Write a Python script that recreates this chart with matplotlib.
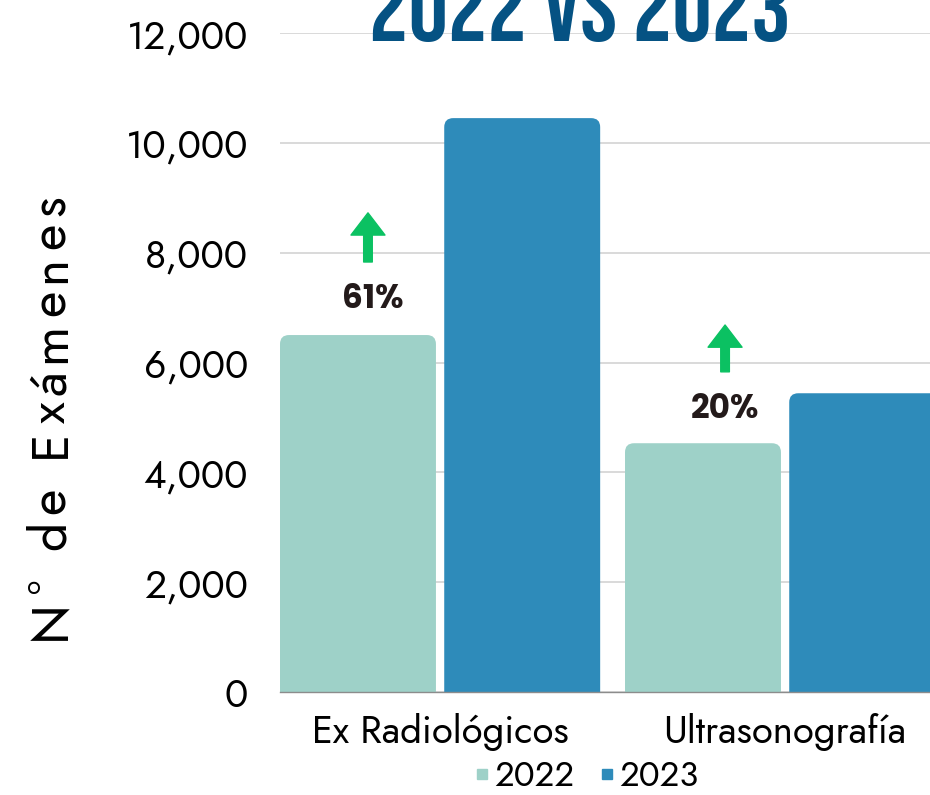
import matplotlib
matplotlib.use("Agg")
import matplotlib.pyplot as plt
import numpy as np
from matplotlib.patches import FancyBboxPatch
from matplotlib.textpath import TextToPath
from matplotlib.font_manager import FontProperties
from matplotlib.lines import Line2D

categorias = ["Ex Radiológicos", "Ultrasonografía"]
series = ["2022", "2023"]
valores_2022 = [6500, 4530]
valores_2023 = [10450, 5440]
variacion = ["61%", "20%"]
yticks = [0, 2000, 4000, 6000, 8000, 10000, 12000]
titulo = "2022 VS 2023"
etiqueta_y = "N° de Exámenes"

c2022 = "#9ED1C8"
c2023 = "#2E8BBA"
verde = "#0BC162"
azul_titulo = "#055283"
fuente = "Jost"

W, H = 930, 795
fig = plt.figure(figsize=(W/100, H/100), dpi=100)
ax = fig.add_axes([280/W, (H-692)/H, 650/W, 659/H])

x = np.arange(len(categorias))
ancho = 0.452
desp = 0.238
xmin, xmax = -0.464, 1.42
ax.set_xlim(xmin, xmax)
ax.set_ylim(0, 12000)

b1 = ax.bar(x - desp, valores_2022, ancho, color=c2022, zorder=2)
b2 = ax.bar(x + desp, valores_2023, ancho, color=c2023, zorder=2)

# esquinas redondeadas
px_x = 650 / (xmax - xmin)
px_y = 659 / 12000
r = 9 / px_x
for barras in (b1, b2):
    for p in barras:
        p.set_visible(False)
        fb = FancyBboxPatch((p.get_x(), -400), p.get_width(), p.get_height() + 400,
                            boxstyle="round,pad=0,rounding_size=%f" % r,
                            mutation_aspect=px_x/px_y, fc=p.get_facecolor(),
                            ec="none", zorder=2)
        ax.add_patch(fb)

ax.set_yticks(yticks)
ax.set_yticklabels(["{:,}".format(v) for v in yticks], fontsize=28, family=fuente)
ax.set_xticks(x)
ax.set_xticklabels(categorias, fontsize=27.5, family=fuente)
ax.tick_params(axis="y", length=0, pad=23)
ax.tick_params(axis="x", length=0, pad=15)
ax.yaxis.grid(True, color="#d9d9d9", lw=1.4, zorder=0)
ax.set_axisbelow(True)
for s in ["top", "right", "left"]:
    ax.spines[s].set_visible(False)
ax.spines["bottom"].set_color("#8c8c8c")
ax.spines["bottom"].set_linewidth(1)

# flechas y porcentajes
flechas_x = [-0.209, 0.826]
flechas_y = [(7830, 8725), (5830, 6683)]
texto_y = [7140, 5140]
texto_x = [-0.195, 0.826]
for i in range(2):
    ax.annotate("", xy=(flechas_x[i], flechas_y[i][1]), xytext=(flechas_x[i], flechas_y[i][0]),
                arrowprops=dict(arrowstyle="simple,head_length=1.6,head_width=2.45,tail_width=0.62",
                                color=verde, shrinkA=0, shrinkB=0, mutation_scale=10))
    ax.text(texto_x[i], texto_y[i], variacion[i], ha="center", va="center",
            fontsize=23.5, fontweight="bold", color="#231A1A", family="Poppins")

# etiqueta eje y, letra por letra para espaciarla
prop_y = FontProperties(family=fuente, size=37)
ttp = TextToPath()
anchos = [ttp.get_text_width_height_descent(ch, prop_y, ismath=False)[0] * 100 / 72
          for ch in etiqueta_y]
largo = 445
extra = (largo - sum(anchos)) / (len(etiqueta_y) - 1)
pos = 640
for ch, a in zip(etiqueta_y, anchos):
    fig.text(65/W, (H - pos)/H, ch, rotation=90, rotation_mode="anchor",
             ha="left", va="baseline", fontproperties=prop_y)
    pos -= a + extra

# leyenda
h = [Line2D([], [], marker="s", ls="none", color=c, markersize=7) for c in (c2022, c2023)]
fig.legend(h, series, loc="center", bbox_to_anchor=(587/W, (H-776)/H), ncol=2,
           frameon=False, prop=FontProperties(family=fuente, size=25),
           handlelength=0.4, handletextpad=0.15, columnspacing=0.75,
           borderpad=0.2)

# titulo (cortado arriba como en el original)
fig.text(580/W, (H-41)/H, titulo, ha="center", va="baseline", fontsize=71,
         family="Bebas Neue", color=azul_titulo)

fig.savefig("out.png", dpi=100)
